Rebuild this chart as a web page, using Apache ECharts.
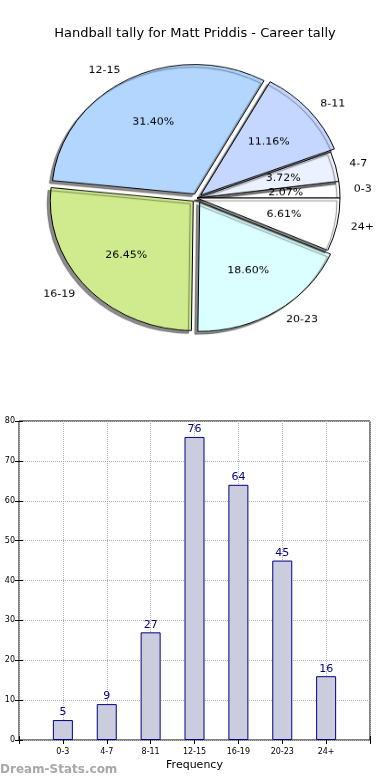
<!DOCTYPE html>
<html><head><meta charset="utf-8">
<script src="https://cdn.jsdelivr.net/npm/echarts@6/dist/echarts.min.js"></script>
<style>
html,body{margin:0;padding:0;background:#fff}
#wrap{position:relative;width:390px;height:780px}
#c{position:absolute;left:0;top:0;width:390px;height:780px}
#p{position:absolute;left:0;top:0;width:390px;height:400px;transform:scaleY(0.906);transform-origin:0 198px}
</style>
</head><body><div id="wrap"><div id="c"></div><div id="p"></div></div>
<script>
const categories = ['0-3','4-7','8-11','12-15','16-19','20-23','24+'];
const counts = [5, 9, 27, 76, 64, 45, 16];
const sliceColors = ['#ffffff','#ebf1ff','#c5d7ff','#b3d6ff','#d0eb8d','#dbffff','#ffffff'];
const exploded = [false, false, true, true, true, true, false];
const yTicks = [0,10,20,30,40,50,60,70,80];

const total = counts.reduce((a,b)=>a+b,0);
const F = 'DejaVu Sans';
const R = 143;
const C = [197, 198];

const pieData = categories.map((c,i)=>({
  name: c, value: counts[i], selected: exploded[i],
  itemStyle: {color: sliceColors[i]}
}));
const pieDataLbl = categories.map((c,i)=>({
  name: c, value: counts[i], selected: exploded[i]
}));

const chart = echarts.init(document.getElementById('c'), null, {renderer:'canvas'});
chart.setOption({
  animation: false,
  backgroundColor: '#fff',
  title: {text: 'Handball tally for Matt Priddis - Career tally', left: 'center', top: 22,
    textStyle: {fontFamily: F, fontSize: 13, fontWeight: 'normal', color: '#000'}},
  graphic: [{type:'text', left: 0, top: 764, style:{text:'Dream-Stats.com', fill:'#a8a8a8', font:'bold 12px "DejaVu Sans"'}}],
  grid: {left: 19, right: 20, top: 421, bottom: 40, show: true, borderColor: '#000', borderWidth: 1},
  xAxis: [{type:'value', min:0, max:8, interval:1,
    axisLine:{show:false}, axisTick:{show:true, inside:true, length:4, lineStyle:{color:'#000'}},
    axisLabel:{fontFamily:F, fontSize:8, color:'#000', formatter: v => categories[v-1] || ''},
    splitLine:{show:true, lineStyle:{type:'dotted', color:'#b0b0b0'}},
    name:'Frequency', nameLocation:'middle', nameGap:20, nameTextStyle:{fontFamily:F, fontSize:11, color:'#000'}},
    {type:'value', position:'top', min:0, max:8, interval:1,
    axisLine:{show:false}, axisTick:{show:true, inside:true, length:4, lineStyle:{color:'#000'}},
    axisLabel:{show:false}, splitLine:{show:false}}],
  yAxis: [{type:'value', min:yTicks[0], max:yTicks[yTicks.length-1], interval:10,
    axisLine:{show:false}, axisTick:{show:true, inside:true, length:4, lineStyle:{color:'#000'}},
    axisLabel:{fontFamily:F, fontSize:8, color:'#000', margin:4},
    splitLine:{show:true, lineStyle:{type:'dotted', color:'#b0b0b0'}}},
    {type:'value', position:'right', min:0, max:80, interval:10,
    axisLine:{show:false}, axisTick:{show:true, inside:true, length:4, lineStyle:{color:'#000'}},
    axisLabel:{show:false}, splitLine:{show:false}}],
  series: [
    {type:'bar', barWidth: 20,
     itemStyle:{color:'#ccccdf', borderColor:'#000080', borderWidth:1},
     label:{show:true, position:'top', color:'#000080', fontFamily:F, fontSize:11, distance:2},
     data: counts.map((v,i)=>[i+1, v])}
  ]
});

const pie = echarts.init(document.getElementById('p'), null, {renderer:'canvas'});
pie.setOption({
  animation: false,
  series: [
    {type:'pie', center: C, radius: R, startAngle: 0, clockwise: false,
     selectedMode: 'multiple', selectedOffset: 5, avoidLabelOverlap: false,
     emphasis:{disabled:true}, silent: true,
     itemStyle:{borderColor:'#000', borderWidth:1, shadowColor:'rgba(0,0,0,0.45)', shadowBlur:1, shadowOffsetX:-3, shadowOffsetY:3},
     label:{show:true, position:'outside', fontFamily:F, fontSize:11, color:'#000', distanceToLabelLine: 3},
     labelLine:{show:false, length: 11, length2: 0},
     data: pieData},
    {type:'pie', center: C, radius: R*1.2, startAngle: 0, clockwise: false,
     selectedMode: 'multiple', selectedOffset: 6, avoidLabelOverlap: false,
     emphasis:{disabled:true}, silent: true,
     itemStyle:{color:'rgba(0,0,0,0)', borderWidth:0},
     label:{show:true, position:'inside', fontFamily:F, fontSize:11, color:'#000',
       formatter: p => (p.value/total*100).toFixed(2)+'%'},
     labelLine:{show:false},
     data: pieDataLbl}
  ]
});
</script></body></html>
